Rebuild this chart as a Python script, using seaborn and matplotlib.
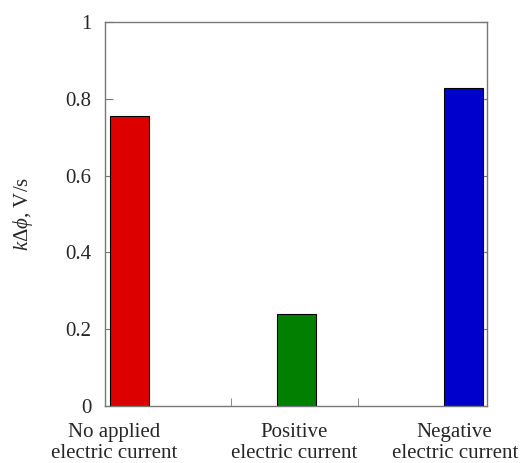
import matplotlib
matplotlib.use("Agg")
import matplotlib.pyplot as plt
import seaborn as sns
import pandas as pd
from matplotlib.ticker import FormatStrFormatter

# data
conditions = ["No applied\nelectric current", "Positive\nelectric current", "Negative\nelectric current"]
rate = [0.755, 0.24, 0.828]
bar_colors = ["#DD0000", "#007F00", "#0000CC"]

df = pd.DataFrame({"condition": conditions, "rate": rate})

sns.set_style("ticks")
plt.rcParams["font.family"] = ["Liberation Serif", "DejaVu Serif"]
plt.rcParams["mathtext.fontset"] = "custom"
plt.rcParams["mathtext.it"] = "Liberation Serif:italic"
plt.rcParams["mathtext.rm"] = "Liberation Serif"

fig = plt.figure(figsize=(5.26, 4.63), dpi=100)
ax = fig.add_axes([0.2, 0.123, 0.726, 0.8295])

sns.barplot(data=df, x="condition", y="rate", hue="condition", palette=bar_colors,
            saturation=1, width=0.234, edgecolor="black", linewidth=0.8,
            legend=False, ax=ax)

ax.set_xlim(-0.144, 2.144)
ax.set_ylim(0, 1)
ax.set_yticks([0, 0.2, 0.4, 0.6, 0.8, 1.0])
ax.yaxis.set_major_formatter(FormatStrFormatter("%g"))

# category labels sit a bit off the bar centres; minor ticks split the axis in thirds
ax.set_xticks([-0.09, 0.99, 1.95])
ax.set_xticklabels(conditions, linespacing=1.15)
ax.set_xticks([0.611, 1.371], minor=True)
ax.tick_params(axis="x", which="major", length=0, labelsize=15, pad=12)
ax.tick_params(axis="x", which="minor", direction="in", length=6, color="#777777")
ax.tick_params(axis="y", direction="in", length=6, color="#777777", labelsize=15,
               right=True, pad=10)

for s in ax.spines.values():
    s.set_visible(True)
    s.set_color("#777777")
    s.set_linewidth(1.0)

ax.set_xlabel("")
ax.set_ylabel(r"$k\mathit{\Delta}\phi$, V/s", fontsize=15, labelpad=22)

fig.savefig("out.png", dpi=100)
